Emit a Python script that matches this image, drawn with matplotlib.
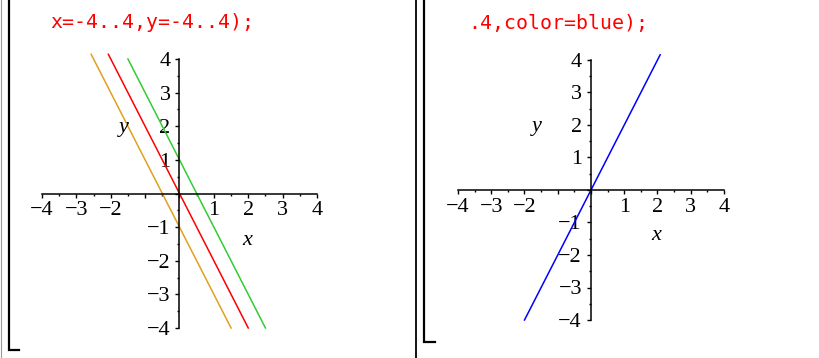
import numpy as np
import matplotlib
matplotlib.use("Agg")
import matplotlib.pyplot as plt
from matplotlib.lines import Line2D

W, H = 820, 358

# left plot: three parallel lines y = slope*x + b
left_slope = -2
left_intercepts = [0, 1, -1]
left_colors = ["#ff0000", "#33cc33", "#e0a020"]
left_xranges = [(-2.07, 2.0), (-1.5, 2.5), (-2.57, 1.5)]

# right plot: y = 2x
right_slope = 2
right_intercept = 0
right_xrange = (-2.0, 2.08)

code_left = "x=-4..4,y=-4..4);"
code_right = ".4,color=blue);"

ticks = [-4, -3, -2, -1, 0, 1, 2, 3, 4]
serif = "Liberation Serif"


def place_axes(fig, px_lo, px_hi, py_top, py_bot, lim=(-4.3, 4.3)):
    # pixel positions of -4 / 4 on each axis -> axes rectangle in figure fraction
    sx = (px_hi - px_lo) / 8.0
    sy = (py_bot - py_top) / 8.0
    left = px_lo + (lim[0] + 4) * sx
    width = (lim[1] - lim[0]) * sx
    top = py_top + (4 - lim[1]) * sy
    height = (lim[1] - lim[0]) * sy
    ax = fig.add_axes([left / W, (H - top - height) / H, width / W, height / H])
    ax.set_xlim(*lim)
    ax.set_ylim(*lim)
    ax.patch.set_alpha(0)
    return ax


def maple_axes(ax):
    for s in ["top", "right"]:
        ax.spines[s].set_visible(False)
    for s in ["left", "bottom"]:
        ax.spines[s].set_position(("data", 0))
        ax.spines[s].set_bounds(-4, 4)
        ax.spines[s].set_linewidth(1.1)
    fmt = lambda v: "" if v == 0 else ("\u2212" + str(-v) if v < 0 else str(v))
    ax.set_xticks(ticks)
    ax.set_xticklabels(["" if v in (0, -1) else fmt(v) for v in ticks])
    ax.set_yticks(ticks)
    ax.set_yticklabels([fmt(v) for v in ticks])
    ax.set_xticks(np.arange(-3.5, 4, 1.0), minor=True)
    ax.set_yticks(np.arange(-3.5, 4, 1.0), minor=True)
    ax.tick_params(which="major", direction="out", length=3, width=1.0,
                   labelsize=16)
    ax.tick_params(axis="x", which="major", pad=2.5)
    ax.tick_params(axis="y", which="major", pad=3.5)
    ax.tick_params(which="minor", direction="out", length=1.6, width=1.0)
    for lab in ax.get_xticklabels() + ax.get_yticklabels():
        lab.set_fontfamily(serif)
    ax.text(-1.63, 1.95, "y", fontsize=16, fontstyle="italic", family=serif,
            ha="center", va="center")
    ax.text(1.96, -1.4, "x", fontsize=16, fontstyle="italic", family=serif,
            ha="center", va="center")


fig = plt.figure(figsize=(W / 100, H / 100), dpi=100)

ax1 = place_axes(fig, 42, 317, 59, 328)
for b, c, (x0, x1) in zip(left_intercepts, left_colors, left_xranges):
    xs = np.array([x0, x1])
    ax1.plot(xs, left_slope * xs + b, color=c, lw=1.1, clip_on=False)
maple_axes(ax1)

ax2 = place_axes(fig, 458, 724, 60, 320)
xs = np.array(right_xrange)
ax2.plot(xs, right_slope * xs + right_intercept, color="#0000ff", lw=1.1,
         clip_on=False)
maple_axes(ax2)

# red input lines above each plot
fig.text(50 / W, 1 - 23 / H, code_left, color="#ff0000", fontsize=14.3,
         family="DejaVu Sans Mono", va="center")
fig.text(468 / W, 1 - 23 / H, code_right, color="#ff0000", fontsize=14.3,
         family="DejaVu Sans Mono", va="center")


# worksheet group brackets
def seg(xp, yp, **kw):
    fig.add_artist(Line2D([x / W for x in xp], [1 - y / H for y in yp],
                          transform=fig.transFigure, **kw))


seg([1.5, 1.5], [0, H], color="#999999", lw=0.8)
seg([9, 9, 19.5], [0, 350, 350], color="black", lw=1.6, solid_joinstyle="miter")
seg([416, 416], [0, H], color="black", lw=1.3)
seg([424, 424, 435.5], [0, 342, 342], color="black", lw=1.6, solid_joinstyle="miter")

fig.savefig("out.png", dpi=100)
